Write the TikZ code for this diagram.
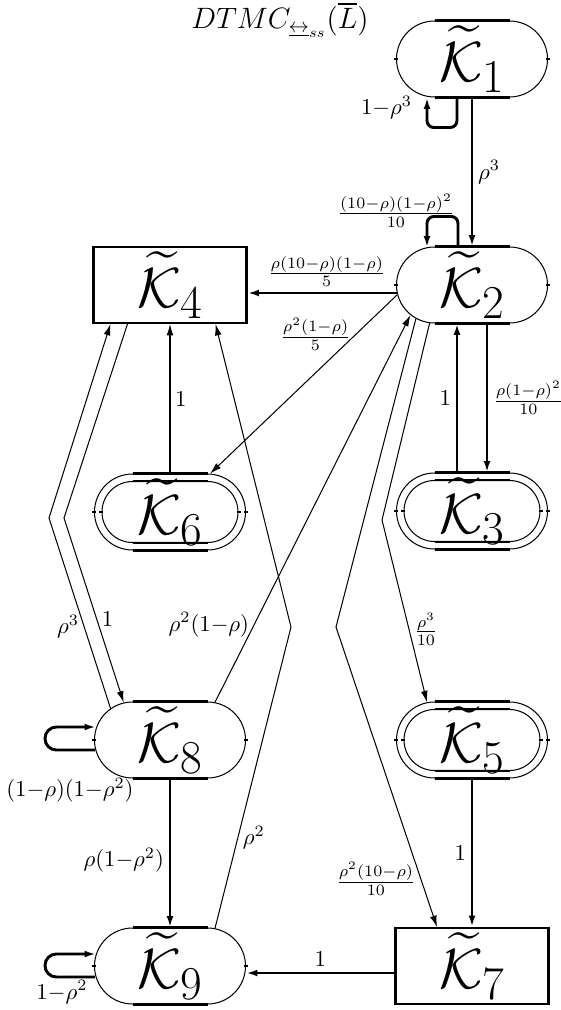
\documentclass[tikz,border=0pt]{standalone}
\usepackage{amsmath}
\usetikzlibrary{shapes.misc,arrows.meta,calc}
\newcommand\stadbars[2]{%
  \draw[line width=#2] ($(#1.north)+(-37.5,0)$) -- ($(#1.north)+(37.5,0)$);
  \draw[line width=#2] ($(#1.south)+(-37.5,0)$) -- ($(#1.south)+(37.5,0)$);
  \draw[tickmark] ($(#1.west)+(-2,0)$) -- ($(#1.west)+(2,0)$);
  \draw[tickmark] ($(#1.east)+(-2,0)$) -- ($(#1.east)+(2,0)$);}
\begin{document}
\begin{tikzpicture}[x=0.44pt,y=-0.44pt,
  thn/.style={line width=0.45pt},
  thk/.style={line width=1.3pt},
  tickmark/.style={line width=1pt},
  arr/.style={-{Latex[length=5pt,width=3pt]}},
  stad/.style={rounded rectangle, draw, line width=0.45pt, minimum width=66.44pt,
    minimum height=33.44pt, inner sep=0pt, font=\Huge},
  stadin/.style={rounded rectangle, draw, line width=0.45pt, minimum width=59.84pt,
    minimum height=26.84pt, inner sep=0pt},
  box/.style={rectangle, draw, line width=0.9pt, minimum width=67.32pt,
    minimum height=33.44pt, inner sep=0pt, font=\Huge},
  lbl/.style={inner sep=2pt}]
\useasboundingbox (0,0) rectangle (560,1010);

\node[scale=0.9] (title) at (280,20) {\Large $DTMC_{\underline{\leftrightarrow}_{ss}}(\overline{L})$};

% states
\node[stad] (k1) at (472,59) {$\widetilde{\mathcal{K}}_1$};
\stadbars{k1}{1.3pt}
\node[stad] (k2) at (472,285) {$\widetilde{\mathcal{K}}_2$};
\stadbars{k2}{1.3pt}
\node[box] (k4) at (170,285) {$\widetilde{\mathcal{K}}_4$};
\node[stadin] (k6i) at (170,512) {};
\stadbars{k6i}{0.9pt}
\node[stad] (k6) at (170,512) {$\widetilde{\mathcal{K}}_6$};
\stadbars{k6}{1.3pt}
\node[stadin] (k3i) at (472,511) {};
\stadbars{k3i}{0.9pt}
\node[stad] (k3) at (472,511) {$\widetilde{\mathcal{K}}_3$};
\stadbars{k3}{1.3pt}
\node[stad] (k8) at (170,740) {$\widetilde{\mathcal{K}}_8$};
\stadbars{k8}{1.3pt}
\node[stadin] (k5i) at (472,740) {};
\stadbars{k5i}{0.9pt}
\node[stad] (k5) at (472,740) {$\widetilde{\mathcal{K}}_5$};
\stadbars{k5}{1.3pt}
\node[stad] (k9) at (170,966) {$\widetilde{\mathcal{K}}_9$};
\stadbars{k9}{1.3pt}
\node[box] (k7) at (472,966) {$\widetilde{\mathcal{K}}_7$};

% bend points
\coordinate (b1) at (49,518);
\coordinate (b2) at (64,518);
\coordinate (b3) at (291,627);
\coordinate (b4) at (382,520);
\coordinate (b5) at (336,627);

% K1
\draw[thk,arr] (k1.south) -- node[lbl,right]{$\rho^3$} (k2.north);
\draw[thk,arr,rounded corners=3pt] ($(k1.south)+(-15,0)$) -- ++(0,30) -| ($(k1.south)+(-45,0)$);
\node[lbl,left] (l1) at ($(k1.south)+(-55,10)$) {$1{-}\rho^3$};

% K2
\draw[thk,arr,rounded corners=3pt] ($(k2.north)+(-14,0)$) -- ++(0,-30) -| ($(k2.north)+(-45,1)$);
\node[lbl] (l2) at ($(k2.north)+(-76,-36)$) {$\frac{(10-\rho)(1-\rho)^2}{10}$};
\draw[thk,arr] ($(k2.west)+(1,8)$) -- node[lbl,above,pos=0.47]{$\frac{\rho(10-\rho)(1-\rho)}{5}$} ($(k4.east)+(0,8)$);
\draw[thn,arr] ($(k2.west)+(1,10)$) -- node[lbl,left,pos=0.22]{$\frac{\rho^2(1-\rho)}{5}$} (k6);
\draw[thk,arr] ($(k3.north)+(-15,0)$) -- node[lbl,left]{$1$} ($(k2.south)+(-15,0)$);
\draw[thk,arr] ($(k2.south)+(15,0)$) -- node[lbl,right]{$\frac{\rho(1-\rho)^2}{10}$} ($(k3.north)+(15,0)$);
\draw[thn,arr] (k2.222) -- (b4) -- node[lbl,right,pos=0.6]{$\frac{\rho^3}{10}$} (k5.140);
\draw[thn,arr] (k2.211) -- (b5) -- node[lbl,left,pos=0.84]{$\frac{\rho^2(10-\rho)}{10}$} ($(k7.north)+(-35,0)$);

% K6
\draw[thn,arr] (k6.north) -- node[lbl,right]{$1$} (k4.south);

% K8
\draw[thn,arr] (k8.152) -- node[lbl,left,pos=0.43]{$\rho^3$} (b1) -- ($(k4.south west)+(18,0)$);
\draw[thn,arr] ($(k4.south west)+(35,0)$) -- (b2) -- node[lbl,right,pos=0.55]{$1$} (k8.141);
\draw[thn,arr] (k8.40) -- node[lbl,left,pos=0.2]{$\rho^2(1{-}\rho)$} (k2.206);
\draw[thk,arr] (k8.south) -- node[lbl,left,pos=0.55]{$\rho(1{-}\rho^2)$} (k9.north);
\draw[thk,arr,rounded corners=5pt] ($(k8.west)+(1,10)$) -- (45,750) -- (45,727) -- ($(k8.west)+(2,-13)$);
\node[lbl] (l8) at ($(k8.west)+(-24,50)$) {$(1{-}\rho)(1{-}\rho^2)$};

% K9
\draw[thn,arr] (k9.40) -- node[lbl,right,pos=0.3]{$\rho^2$} (b3) -- ($(k4.south east)+(-32,0)$);
\draw[thk,arr,rounded corners=5pt] ($(k9.west)+(1,11)$) -- (45,977) -- (45,954) -- ($(k9.west)+(2,-12)$);
\node[lbl] (l9) at ($(k9.west)+(-32,26)$) {$1{-}\rho^2$};

% K5, K7
\draw[thk,arr] (k5.south) -- node[lbl,left]{$1$} (k7.north);
\draw[thk,arr] ($(k7.west)+(0,7)$) -- node[lbl,above]{$1$} ($(k9.east)+(0,7)$);
\end{tikzpicture}
\end{document}
